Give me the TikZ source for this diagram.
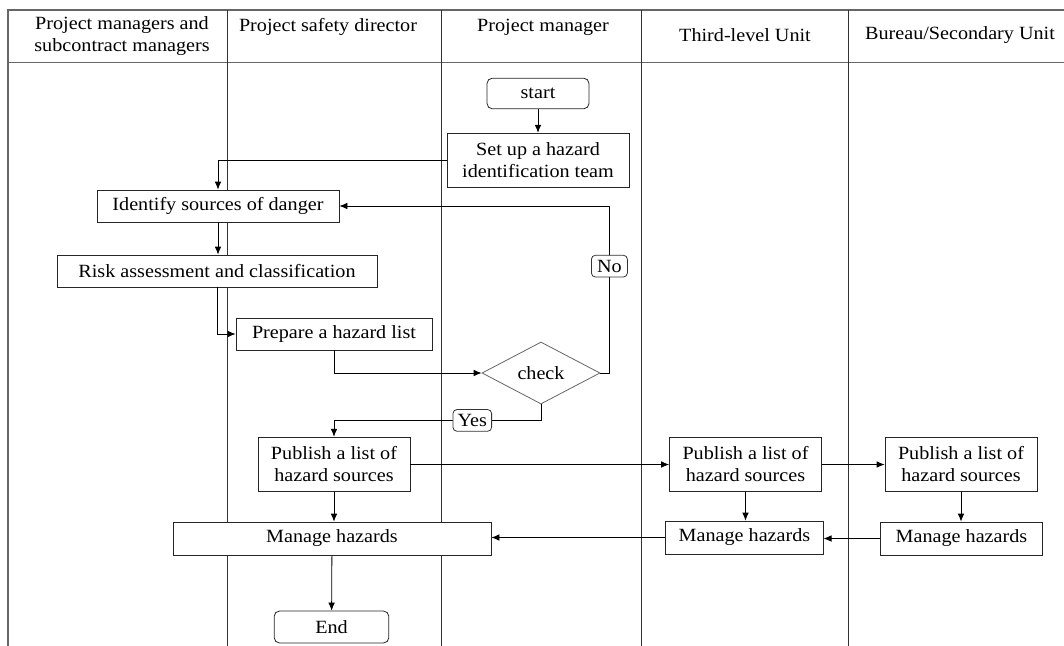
\documentclass[tikz,border=0pt]{standalone}
\usepackage{fontspec}
\setmainfont{Liberation Serif}[FakeStretch=1.08]
\usetikzlibrary{shapes.geometric, arrows.meta}

\begin{document}
\begin{tikzpicture}[x=0.75pt, y=-0.75pt, >={Latex[length=6pt, width=5pt]}, line width=0.6pt,
        every node/.style={font=\fontsize{14}{16.5}\selectfont},
        box/.style={draw=black!85, fill=white, align=center, inner sep=1pt},
        term/.style={box, rounded corners=4pt},
        tag/.style={draw=black!80, fill=white, rounded corners=3pt, inner sep=3.5pt, minimum width=27pt}]
        \useasboundingbox (0,0) rectangle (1064,646);
        % the frame, the header and the lanes
        \draw[black!60, line width=1.2pt] (1064,10) -- (8,10) -- (8,646);
        \draw[black!60] (8,62) -- (1064,62);
        \foreach \x in {227,441,641,848}
            \draw[black!80] (\x,10) -- (\x,646);
        \foreach \x/\y/\lab [count=\i] in {122/36/{Project managers and\\subcontract managers}, 328/27/{Project safety director},
                543/27/{Project manager}, 745/35/{Third-level Unit}, 960/35/{Bureau/Secondary Unit}}
            \node[align=center] (head\i) at (\x,\y) {\lab};
        % the steps
        \node[term, minimum width=76.5pt, minimum height=23pt] (start) at (538,93.5) {start};
        \node[box, minimum width=136.5pt, minimum height=41pt] (team) at (538,160.5) {Set up a hazard\\identification team};
        \node[box, minimum width=181.5pt, minimum height=24pt] (ident) at (218,206) {Identify sources of danger};
        \node[box, minimum width=240pt, minimum height=24pt] (risk) at (217,271) {Risk assessment and classification};
        \node[box, minimum width=147pt, minimum height=24pt] (list) at (334,334) {Prepare a hazard list};
        \node[diamond, draw=black!60, fill=white, minimum width=88.5pt, minimum height=46.5pt, inner sep=0pt] (check) at (541,373) {check};
        \foreach \n/\x in {pubA/334, pubB/745.5, pubC/961}
            \node[box, minimum width=114pt, minimum height=41pt] (\n) at (\x,464.5) {Publish a list of\\hazard sources};
        \node[box, minimum width=238.5pt, minimum height=24.75pt] (manA) at (332,538.5) {Manage hazards};
        \node[box, minimum width=118pt, minimum height=24.75pt] (manB) at (744.5,537.5) {Manage hazards};
        \node[box, minimum width=121pt, minimum height=24.75pt] (manC) at (961.5,538.5) {Manage hazards};
        \node[term, minimum width=86pt, minimum height=24pt] (end) at (331.5,627) {End};
        % the flow
        \draw[->] (start) -- (team);
        \draw[->] (team.west) -| (ident.north);
        \draw[->] (ident.south) -- (ident.south |- risk.north);
        \draw[->] (risk.south) |- (list.west);
        \draw[->] (list.south) |- (check.west);
        \draw[->] (check.east) -- ++(9,0) |- node[tag, pos=0.32] (no) {No} (ident.east);
        \draw[->] (check.south) -- ++(0,16) -| node[tag, pos=0.166] (yes) {Yes} (pubA.north);
        \draw[->] (pubA) -- (pubB);
        \draw[->] (pubB) -- (pubC);
        \foreach \p/\m in {pubA/manA, pubB/manB, pubC/manC}
            \draw[->] (\p.south) -- (\p.south |- \m.north);
        \draw[->] (manC.west) -- (manC.west -| manB.east);
        \draw[->] (manB.west) -- (manB.west -| manA.east);
        \draw[->] (manA) -- (end);
\end{tikzpicture}
\end{document}
